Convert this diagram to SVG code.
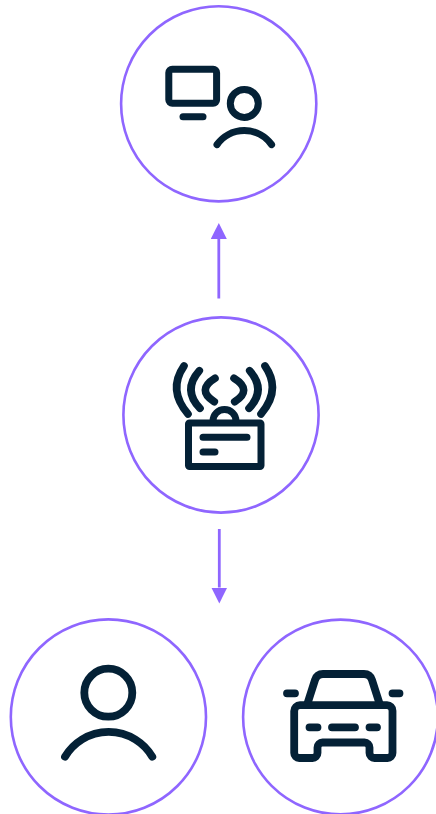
<svg xmlns="http://www.w3.org/2000/svg" width="436" height="814" viewBox="0 0 436 814">
<style>
.ring{fill:#fff;stroke:#8f66ff;stroke-width:2.6}
.i{fill:none;stroke:#042136;stroke-linecap:round;stroke-linejoin:round}
.s6{stroke-width:7}
.s7{stroke-width:7.8}
.w{stroke-width:7.6}
.c{fill:none;stroke:#8f66ff;stroke-width:2.8}
</style>
<defs>
<marker id="ah" markerUnits="userSpaceOnUse" markerWidth="16" markerHeight="16" refX="0" refY="8" orient="auto" viewBox="0 0 16 16"><path d="M0 0L16 8L0 16z" fill="#8f66ff"/></marker>
</defs>
<rect width="436" height="814" fill="#fff"/>
<g id="connectors">
<path class="c" d="M218.8 298.5V239" marker-end="url(#ah)"/>
<path class="c" d="M219.3 529V587.5" marker-end="url(#ah)"/>
</g>
<g id="node-user-device">
<circle class="ring" cx="218.7" cy="103.8" r="97.6"/>
<g class="i s6">
<rect x="168.8" y="69.2" width="47.8" height="34" rx="3.5"/>
<path d="M183 116.7H203"/>
<circle cx="244.3" cy="103.4" r="14"/>
<path d="M217 144.6A33.6 33.6 0 0 1 271.6 144.6"/>
</g>
</g>
<g id="node-gateway">
<circle class="ring" cx="221" cy="415" r="97.6"/>
<g class="i s6">
<rect x="188.5" y="423" width="72.5" height="43.5" rx="1"/>
<path d="M203 437.3H247M203 452H215"/>
<path d="M213 421A11.5 11.5 0 0 1 236 421"/>
<g class="w">
<path d="M184 366Q167.4 390 188 414M199.3 370.7Q182.3 390 200 408.3M215 378.3Q196 390 214.3 401.7"/>
<path d="M265 366Q281.6 390 261 414M249.7 370.7Q266.7 390 249 408.3M234 378.3Q253 390 234.7 401.7"/>
</g>
</g>
</g>
<g id="node-person">
<circle class="ring" cx="108.4" cy="717" r="97.6"/>
<g class="i s7">
<circle cx="108.3" cy="692.7" r="24"/>
<path d="M65 756.7A50.8 50.8 0 0 1 152.3 756.7"/>
</g>
</g>
<g id="node-car">
<circle class="ring" cx="340.5" cy="717" r="97.4"/>
<g class="i s7">
<path d="M300 705.2H387A5.5 5.5 0 0 1 392.5 710.7V753A5 5 0 0 1 387.5 758H374.5A5 5 0 0 1 369.5 753V747.5A5 5 0 0 0 364.5 742.5H322.5A5 5 0 0 0 317.5 747.5V753A5 5 0 0 1 312.5 758H299.2A5 5 0 0 1 294.2 753V711A5.8 5.8 0 0 1 300 705.2Z"/>
<path d="M307 705L315 680Q317 674 323 674H364Q370 674 372 680L380 705"/>
<path d="M287 693.3H295M392.5 693.3H399.5M309.5 727.3H317.5M332 727.3H355M369.5 727.3H377"/>
</g>
</g>
</svg>
